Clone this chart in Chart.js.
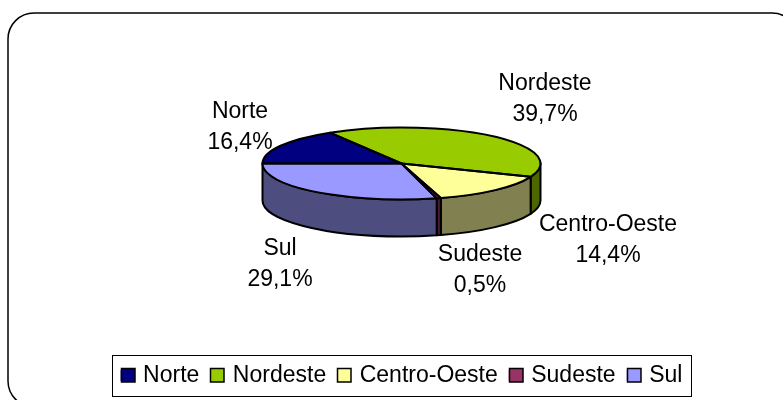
<!DOCTYPE html>
<html>
<head>
<meta charset="utf-8">
<style>
html,body{margin:0;padding:0;background:#fff;overflow:hidden}
#wrap{width:783px;height:400px}
canvas{display:block}
</style>
<script src="https://cdn.jsdelivr.net/npm/chart.js@4"></script>
</head>
<body>
<div id="wrap"><canvas id="c" width="783" height="400"></canvas></div>
<script>
const categories = ["Norte", "Nordeste", "Centro-Oeste", "Sudeste", "Sul"];
const values = [16.4, 39.7, 14.4, 0.5, 29.1];
const topColors = ["#000080", "#99CC00", "#FFFF99", "#993366", "#9999FF"];
const sideColors = ["#000040", "#4D6600", "#808050", "#4D1A33", "#4D4D80"];

const FONT = '"Liberation Sans", Arial, sans-serif';
const tilt = { centerY: 163.5, radiusY: 36, depth: 37 };
// Centre of each label block (name line / value line midpoint) on the page
const labelCentres = [[240, 127], [545, 99], [608, 240], [480, 270], [280, 264]];

function forEachArc(chart, fn) {
  chart.getDatasetMeta(0).data.forEach((arc, i) => fn(arc, i));
}

const tiltedPie = {
  id: 'tiltedPie',
  beforeDraw(chart) {
    const ctx = chart.ctx;
    ctx.save();
    ctx.strokeStyle = '#000';
    ctx.lineWidth = 1.5;
    ctx.beginPath();
    ctx.roundRect(8, 13, 790, 394, 26);
    ctx.stroke();
    ctx.restore();
  },
  beforeDatasetsDraw(chart) {
    const ctx = chart.ctx;
    ctx.save();
    ctx.strokeStyle = '#000';
    ctx.lineWidth = 2;
    ctx.lineJoin = 'round';
    forEachArc(chart, (arc, i) => {
      const s = Math.max(arc.startAngle, 0);
      const e = Math.min(arc.endAngle, Math.PI);
      if (e <= s) return;
      const rx = arc.outerRadius, ry = tilt.radiusY, cy = tilt.centerY;
      ctx.beginPath();
      ctx.ellipse(arc.x, cy, rx, ry, 0, s, e);
      ctx.ellipse(arc.x, cy + tilt.depth, rx, ry, 0, e, s, true);
      ctx.closePath();
      ctx.fillStyle = sideColors[i];
      ctx.fill();
      ctx.stroke();
    });
    ctx.restore();
    const first = chart.getDatasetMeta(0).data[0];
    ctx.save();
    ctx.translate(first.x, tilt.centerY);
    ctx.scale(1, tilt.radiusY / first.outerRadius);
    ctx.translate(-first.x, -first.y);
  },
  afterDatasetsDraw(chart) {
    const ctx = chart.ctx;
    ctx.restore();
    ctx.save();
    ctx.strokeStyle = '#000';
    ctx.lineWidth = 2;
    ctx.lineJoin = 'round';
    forEachArc(chart, (arc) => {
      ctx.beginPath();
      ctx.moveTo(arc.x, tilt.centerY);
      ctx.ellipse(arc.x, tilt.centerY, arc.outerRadius, tilt.radiusY, 0, arc.startAngle, arc.endAngle);
      ctx.closePath();
      ctx.stroke();
    });
    ctx.fillStyle = '#000';
    ctx.font = '23px ' + FONT;
    ctx.textAlign = 'center';
    ctx.textBaseline = 'middle';
    categories.forEach((name, i) => {
      const [x, y] = labelCentres[i];
      ctx.fillText(name, x, y - 15);
      ctx.fillText(values[i].toFixed(1).replace('.', ',') + '%', x, y + 15.5);
    });
    ctx.restore();
  },
  afterDraw(chart) {
    const ctx = chart.ctx, boxes = chart.legend.legendHitBoxes;
    const items = chart.legend.legendItems;
    const last = boxes[boxes.length - 1];
    ctx.save();
    ctx.strokeStyle = '#000';
    ctx.lineWidth = 1;
    const left = Math.round(boxes[0].left) - 8.5;
    const right = Math.round(last.left + last.width) + 9.5;
    ctx.strokeRect(left, 355.5, right - left, 41);
    ctx.lineWidth = 1.5;
    boxes.forEach((b, i) => {
      ctx.fillStyle = items[i].fillStyle;
      ctx.fillRect(Math.round(b.left) + 0.5, 368.5, 13.5, 13.5);
      ctx.strokeRect(Math.round(b.left) + 0.5, 368.5, 13.5, 13.5);
    });
    ctx.restore();
  }
};

new Chart(document.getElementById('c'), {
  type: 'pie',
  data: {
    labels: categories,
    datasets: [{ data: values, backgroundColor: topColors, borderWidth: 0 }]
  },
  options: {
    responsive: false,
    animation: false,
    rotation: -90,
    layout: { padding: { left: 20, top: 75, bottom: 3 } },
    plugins: {
      tooltip: { enabled: false },
      legend: {
        position: 'bottom',
        labels: {
          boxWidth: 11,
          boxHeight: 11,
          padding: 11,
          color: '#000',
          font: { family: FONT, size: 23 },
          generateLabels(chart) {
            return Chart.overrides.pie.plugins.legend.labels.generateLabels(chart).map(l => {
              l.strokeStyle = 'rgba(0,0,0,0)';
              l.lineWidth = 0;
              return l;
            });
          }
        }
      }
    }
  },
  plugins: [tiltedPie]
});
</script>
</body>
</html>
